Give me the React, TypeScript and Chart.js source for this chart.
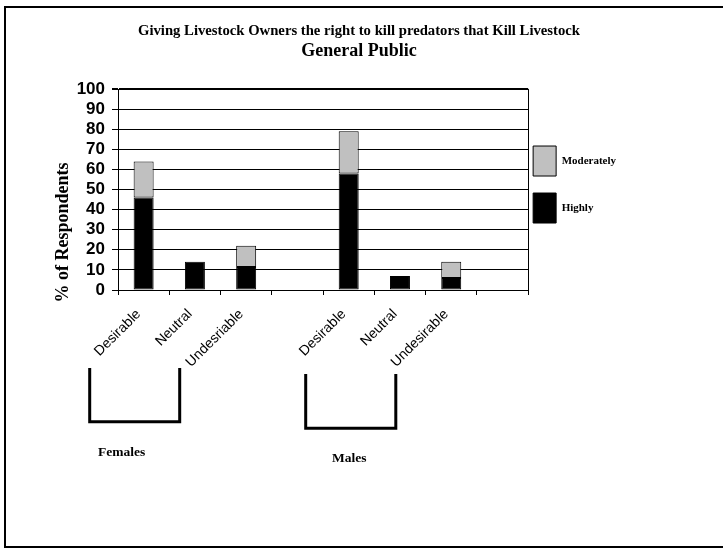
import React, { useEffect, useRef } from 'react';
import { Chart, registerables } from 'chart.js';

Chart.register(...registerables);

const categories = ['Desirable', 'Neutral', 'Undesriable', '', 'Desirable', 'Neutral', 'Undesirable', ''];
const highly = [46, 14, 11.5, null, 58, 7, 6, null];
const moderately = [18, null, 10.5, null, 21, null, 8, null];
const seriesNames = ['Highly', 'Moderately'];
const titleLine1 = 'Giving Livestock Owners the right to kill predators that Kill Livestock';
const titleLine2 = 'General Public';
const yTitle = '% of Respondents';
const groupLabels = ['Females', 'Males'];

const SERIF = '"Liberation Serif", "Times New Roman", serif';
const SANS = '"Liberation Sans", Arial, sans-serif';

export default function App() {
  const ref = useRef<HTMLCanvasElement>(null);

  useEffect(() => {
    if (!ref.current) return;

    const decor = {
      id: 'decor',
      afterLayout(chart: any) {
        const lg = chart.legend;
        const ca = chart.chartArea;
        if (lg) {
          const w = lg.width;
          lg.left = ca.right - 12;
          lg.right = lg.left + w;
          lg.top -= 5;
          lg.bottom -= 5;
        }
        // titles centred over the whole figure
        chart.boxes.forEach((b: any) => {
          if (b.position === 'top' && b.fullSize) {
            b.left = 0;
            b.right = 718;
            b.width = 718;
          }
        });
      },
      afterDraw(chart: any) {
        const ctx = chart.ctx;
        const ca = chart.chartArea;
        ctx.save();
        // outer frame
        ctx.strokeStyle = '#000';
        ctx.lineWidth = 2;
        ctx.beginPath();
        ctx.moveTo(740, 7);
        ctx.lineTo(5, 7);
        ctx.lineTo(5, 547);
        ctx.lineTo(740, 547);
        ctx.stroke();

        // right border of plot
        ctx.lineWidth = 1;
        ctx.beginPath();
        const rx = Math.round(ca.right) + 0.5;
        ctx.moveTo(rx, ca.top);
        ctx.lineTo(rx, ca.bottom);
        ctx.stroke();

        // y axis title
        ctx.save();
        ctx.translate(63, 232.5);
        ctx.rotate(-Math.PI / 2);
        ctx.font = 'bold 18px ' + SERIF;
        ctx.fillStyle = '#000';
        ctx.textAlign = 'center';
        ctx.textBaseline = 'middle';
        ctx.fillText(yTitle, 0, 0);
        ctx.restore();

        // group brackets
        ctx.lineWidth = 3;
        ctx.lineJoin = 'miter';
        ctx.beginPath();
        ctx.moveTo(89.7, 368);
        ctx.lineTo(89.7, 421.7);
        ctx.lineTo(179.7, 421.7);
        ctx.lineTo(179.7, 368);
        ctx.stroke();
        ctx.beginPath();
        ctx.moveTo(305.7, 374);
        ctx.lineTo(305.7, 428.3);
        ctx.lineTo(395.8, 428.3);
        ctx.lineTo(395.8, 374);
        ctx.stroke();

        ctx.font = 'bold 13.5px ' + SERIF;
        ctx.fillStyle = '#000';
        ctx.textAlign = 'left';
        ctx.textBaseline = 'middle';
        ctx.fillText(groupLabels[0], 98, 453);
        ctx.fillText(groupLabels[1], 332, 459);
        ctx.restore();
      },
    };

    const chart = new Chart(ref.current, {
      type: 'bar',
      data: {
        labels: categories,
        datasets: [
          {
            label: seriesNames[0],
            data: highly,
            backgroundColor: '#000000',
            borderColor: '#000000',
            borderWidth: 1,
            borderSkipped: false,
          },
          {
            label: seriesNames[1],
            data: moderately,
            backgroundColor: '#c0c0c0',
            borderColor: '#000000',
            borderWidth: 1,
            borderSkipped: false,
          },
        ],
      },
      options: {
        responsive: false,
        maintainAspectRatio: false,
        animation: false,
        devicePixelRatio: 1,
        datasets: {
          bar: { categoryPercentage: 1, barPercentage: 0.39 },
        },
        layout: { padding: { left: 0, right: 85, top: 0, bottom: 0 } },
        plugins: {
          title: {
            display: true,
            text: titleLine1,
            color: '#000',
            font: { family: SERIF, size: 14.7, weight: 'bold' },
            padding: { top: 22.6, bottom: 0 },
          },
          subtitle: {
            display: true,
            text: titleLine2,
            color: '#000',
            font: { family: SERIF, size: 18, weight: 'bold' },
            padding: { top: 0.6, bottom: 26.6 },
          },
          legend: {
            display: true,
            position: 'right',
            fullSize: false,
            reverse: true,
            labels: {
              boxWidth: 23,
              boxHeight: 30,
              padding: 17,
              color: '#000',
              font: { family: SERIF, size: 11, weight: 'bold' },
            },
          },
          tooltip: { enabled: false },
        },
        scales: {
          x: {
            stacked: true,
            grid: { drawOnChartArea: false, color: '#000', tickLength: 5, offset: true },
            border: { color: '#000', width: 1 },
            ticks: {
              color: '#000',
              font: { family: SANS, size: 14 },
              minRotation: 45,
              maxRotation: 45,
              autoSkip: false,
              padding: 11,
              labelOffset: -5,
            },
            afterFit: (s: any) => {
              s.height = 260;
            },
          },
          y: {
            stacked: true,
            min: 0,
            max: 100,
            ticks: {
              stepSize: 10,
              autoSkip: false,
              color: '#000',
              font: { family: SANS, size: 17, weight: 'bold' },
              padding: 7,
            },
            grid: {
              color: '#000',
              lineWidth: (c: any) => (c.tick && c.tick.value === 100 ? 2 : 1),
              tickLength: 6,
            },
            border: { color: '#000', width: 1 },
            afterFit: (s: any) => {
              s.width = 118;
            },
          },
        },
      },
      plugins: [decor],
    } as any);

    return () => chart.destroy();
  }, []);

  return (
    <div style={{ position: 'absolute', left: 0, top: 0, width: 723, height: 550, background: '#fff' }}>
      <canvas ref={ref} width={723} height={550} style={{ display: 'block' }} />
    </div>
  );
}
